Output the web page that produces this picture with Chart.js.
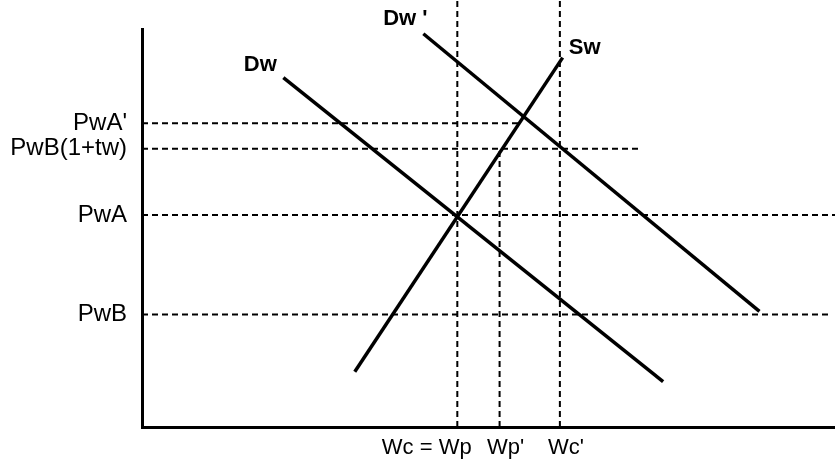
<!DOCTYPE html>
<html>
<head>
<meta charset="utf-8">
<title>Wage market with tariff</title>
<script src="https://cdn.jsdelivr.net/npm/chart.js@4.4.1/dist/chart.umd.min.js"></script>
<style>
  html, body { margin: 0; padding: 0; background: #fff; }
  canvas { display: block; }
</style>
</head>
<body>
<canvas id="chart" width="835" height="460"></canvas>
<script>
// price levels on the vertical axis (top to bottom) and where each guide line stops
const priceLabels = ["PwA'", 'PwB(1+tw)', 'PwA', 'PwB'];
const priceLevels = [76.4, 70.0, 53.3, 28.3];
const priceLineEnds = [54.5, 72.1, 100, 99.3];

// quantities on the horizontal axis and how high each guide line reaches
const wageLabels = ['Wc = Wp', "Wp'", "Wc'"];
const wageLevels = [45.5, 51.6, 60.3];
const wageLineTops = [107.5, 70.0, 107.5];

// curves, each given by its two end points [x, y]; labelled end first
const curveNames = ['Dw', "Dw '", 'Sw'];
const curveEnds = [
  [[20.4, 87.9], [75.2, 11.4]],
  [[40.6, 98.9], [89.1, 29.1]],
  [[60.7, 92.9], [30.7, 13.9]]
];

const FONT = '"Liberation Sans", Arial, Helvetica, sans-serif';
// pixel offset of each curve name from the curve's labelled end
const labelOffsets = [[-23, -13], [-18, -15], [22, -10]];

const curveLabels = {
  id: 'curveLabels',
  afterDatasetsDraw(chart) {
    const ctx = chart.ctx;
    ctx.save();
    ctx.font = 'bold 22px ' + FONT;
    ctx.fillStyle = '#000';
    ctx.textAlign = 'center';
    ctx.textBaseline = 'middle';
    chart.data.datasets.forEach((ds, i) => {
      if (ds.curveIndex === undefined) return;
      const p = chart.getDatasetMeta(i).data[0];
      const off = labelOffsets[ds.curveIndex];
      ctx.fillText(curveNames[ds.curveIndex], p.x + off[0], p.y + off[1]);
    });
    ctx.restore();
  }
};

const guide = {
  showLine: true,
  borderColor: '#000',
  borderWidth: 2,
  borderDash: [6, 4],
  pointRadius: 0,
  clip: false
};

const datasets = [];
curveEnds.forEach((ends, i) => {
  datasets.push({
    curveIndex: i,
    showLine: true,
    borderColor: '#000',
    borderWidth: 3.5,
    pointRadius: 0,
    clip: false,
    data: ends.map(p => ({ x: p[0], y: p[1] }))
  });
});
priceLevels.forEach((y, i) => {
  datasets.push({ ...guide, data: [{ x: 0, y: y }, { x: priceLineEnds[i], y: y }] });
});
wageLevels.forEach((x, i) => {
  datasets.push({ ...guide, data: [{ x: x, y: 0 }, { x: x, y: wageLineTops[i] }] });
});

new Chart(document.getElementById('chart'), {
  type: 'scatter',
  data: { datasets },
  plugins: [curveLabels],
  options: {
    responsive: false,
    animation: false,
    layout: { padding: { top: 29, right: 0, left: 0, bottom: 0 } },
    plugins: { legend: { display: false }, tooltip: { enabled: false } },
    scales: {
      x: {
        type: 'linear',
        min: 0,
        max: 100,
        grid: { display: false, drawTicks: false },
        border: { display: true, color: '#000', width: 3 },
        afterBuildTicks: s => { s.ticks = wageLevels.map(v => ({ value: v })); },
        afterFit: s => { s.height = 33; },
        ticks: {
          autoSkip: false,
          maxRotation: 0,
          padding: 8,
          color: '#000',
          font: { family: FONT, size: 22 },
          // 'Wc = Wp' sits left of its line in the original, the others a bit right
          callback: (v, i) => i === 0 ? wageLabels[i] + '\u00a0'.repeat(10) : '\u00a0\u00a0' + wageLabels[i]
        }
      },
      y: {
        type: 'linear',
        min: 0,
        max: 100,
        grid: { display: false, drawTicks: false },
        border: { display: true, color: '#000', width: 3 },
        afterBuildTicks: s => { s.ticks = priceLevels.map(v => ({ value: v })); },
        afterFit: s => { s.width = 142; },
        ticks: {
          autoSkip: false,
          padding: 15,
          color: '#000',
          font: { family: FONT, size: 24 },
          callback: (v, i) => priceLabels[i]
        }
      }
    }
  }
});
</script>
</body>
</html>
